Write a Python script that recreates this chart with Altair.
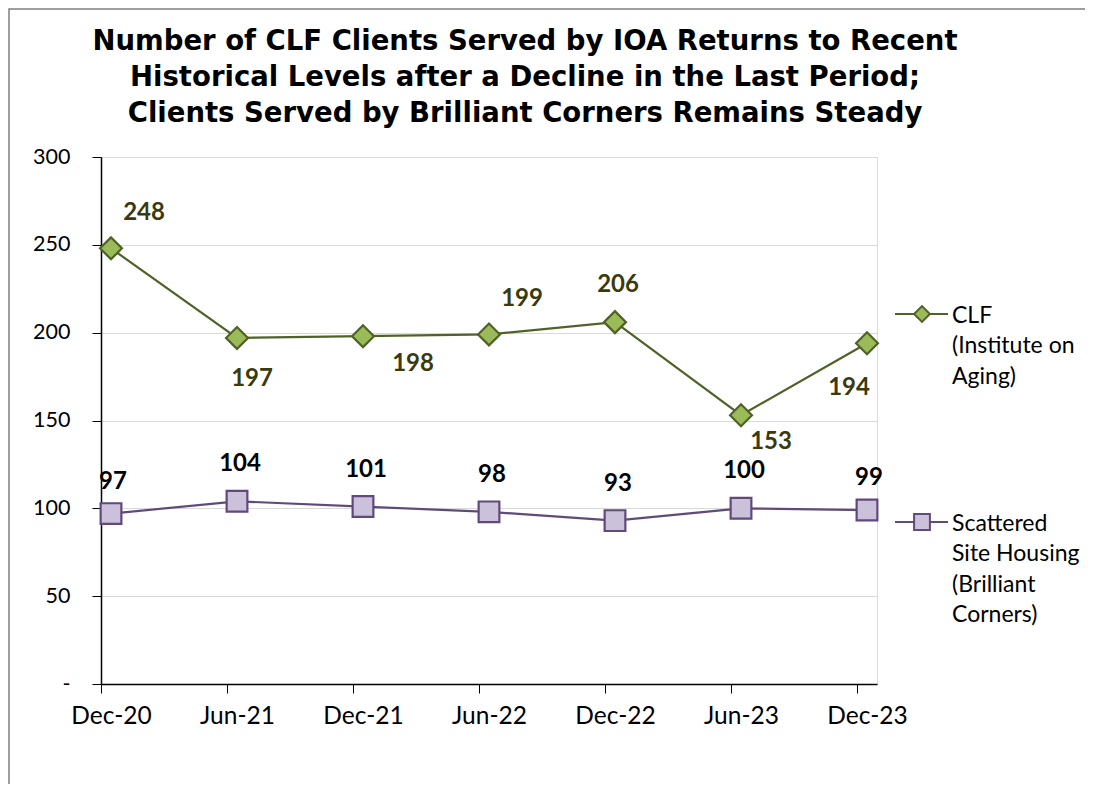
import altair as alt
import pandas as pd

# ---------------- data ----------------
PERIODS = ["Dec-20", "Jun-21", "Dec-21", "Jun-22", "Dec-22", "Jun-23", "Dec-23"]
CLF_VALUES = [248, 197, 198, 199, 206, 153, 194]
SSH_VALUES = [97, 104, 101, 98, 93, 100, 99]
CLF_LABEL_PLACE = ["up-right", "down", "right", "up-right", "up", "down-right", "down-left"]
SSH_LABEL_PLACE = ["up-near", "up", "up", "up", "up", "up", "up-near"]
SERIES = ["CLF\n(Institute on\nAging)", "Scattered\nSite Housing\n(Brilliant\nCorners)"]
Y_TICKS = [0, 50, 100, 150, 200, 250, 300]
TITLE = (
    "Number of CLF Clients Served by IOA Returns to Recent\n"
    "Historical Levels after a Decline in the Last Period;\n"
    "Clients Served by Brilliant Corners Remains Steady"
)

# ---------------- styles ----------------
FONT = "Lato"
TITLE_FONT = "DejaVu Sans"
W, H = 776, 527
CLF_LINE = "#4F6228"
CLF_FILL = "#9BBB59"
CLF_LABEL = "#3A3A0C"
SSH_LINE = "#604A7B"
SSH_FILL = "#CCC1DA"
OFFSETS = {
    "up-right": (33, -35),
    "down": (15, 41),
    "right": (50, 28),
    "down-right": (30, 27),
    "up": (3, -37),
    "up-near": (2, -32),
    "down-left": (-18, 45),
}

clf = pd.DataFrame({"period": PERIODS, "value": CLF_VALUES, "place": CLF_LABEL_PLACE})
ssh = pd.DataFrame({"period": PERIODS, "value": SSH_VALUES, "place": SSH_LABEL_PLACE})

x_enc = alt.X(
    "period:O",
    sort=PERIODS,
    title=None,
    scale=alt.Scale(type="point", padding=10 / 126),
    axis=alt.Axis(
        labelAngle=0, tickOffset=-10, labelOffset=10, tickSize=9, tickColor="black",
        domainColor="black", domainWidth=1.5, labelFont=FONT, labelFontSize=24.5,
        labelColor="black", labelPadding=11, grid=False,
    ),
)
y_enc = alt.Y(
    "value:Q",
    title=None,
    scale=alt.Scale(domain=[0, 300], nice=False),
    axis=alt.Axis(
        values=Y_TICKS, labelExpr="datum.value == 0 ? '-' : datum.label",
        tickSize=9, tickColor="black", domainColor="black", domainWidth=1.5,
        labelFont=FONT, labelFontSize=21.5, labelColor="black", labelPadding=22,
        gridColor="#D9D9D9", gridWidth=1.2,
    ),
)


def series_layers(df, line_color, fill_color, shape, size, label_color):
    base = alt.Chart(df).encode(x=x_enc, y=y_enc)
    layers = [
        base.mark_line(color=line_color, strokeWidth=2.2),
        base.mark_point(shape=shape, size=size, filled=True, fill=fill_color,
                        stroke=line_color, strokeWidth=2.2, opacity=1),
    ]
    for place in sorted(set(df["place"])):
        dx, dy = OFFSETS[place]
        layers.append(
            base.transform_filter(alt.datum.place == place)
            .mark_text(font=FONT, fontSize=24, fontWeight="bold", color=label_color,
                       dx=dx, dy=dy, align="center", baseline="middle")
            .encode(text="value:Q")
        )
    return layers


def legend_layers(label, y_px, line_color, fill_color, shape):
    one = alt.Chart(pd.DataFrame({"label": [label]}))
    return [
        one.mark_rule(color=line_color, strokeWidth=2.2).encode(
            x=alt.value(794), x2=alt.value(847), y=alt.value(y_px)),
        one.mark_point(shape=shape, size=250, filled=True, fill=fill_color,
                       stroke=line_color, strokeWidth=2, opacity=1).encode(
            x=alt.value(821), y=alt.value(y_px)),
        one.mark_text(font=FONT, fontSize=23, align="left", baseline="alphabetic",
                      lineBreak="\n", lineHeight=30.5, dy=8.5, color="black").encode(
            x=alt.value(851), y=alt.value(y_px), text="label:N"),
    ]


border = alt.Chart(pd.DataFrame({"b": [0]})).mark_rect(
    fillOpacity=0, stroke="#7F7F7F", strokeWidth=1.5
).encode(x=alt.value(-92), x2=alt.value(W + 400), y=alt.value(-148), y2=alt.value(H + 400))

title = alt.Chart(pd.DataFrame({"t": [TITLE]})).mark_text(
    font=TITLE_FONT, fontSize=27.5, fontWeight="bold", color="black", align="center",
    baseline="middle", lineBreak="\n", lineHeight=36,
).encode(x=alt.value(W / 2 + 36), y=alt.value(-115), text="t:N")

layers = [border, title]
layers += series_layers(clf, CLF_LINE, CLF_FILL, "diamond", 480, CLF_LABEL)
layers += series_layers(ssh, SSH_LINE, SSH_FILL, "square", 430, "black")
layers += legend_layers(SERIES[0], 157, CLF_LINE, CLF_FILL, "diamond")
layers += legend_layers(SERIES[1], 365, SSH_LINE, SSH_FILL, "square")

chart = (
    alt.layer(*layers)
    .properties(
        width=W,
        height=H,
        autosize=alt.AutoSizeParams(type="none"),
        padding={"left": 93, "top": 149, "right": 208, "bottom": 100},
    )
    .configure_view(stroke="#8C8C8C", strokeWidth=2)
    .configure(background="white")
)

chart.save("out.html", embed_options={"renderer": "svg", "actions": False})
